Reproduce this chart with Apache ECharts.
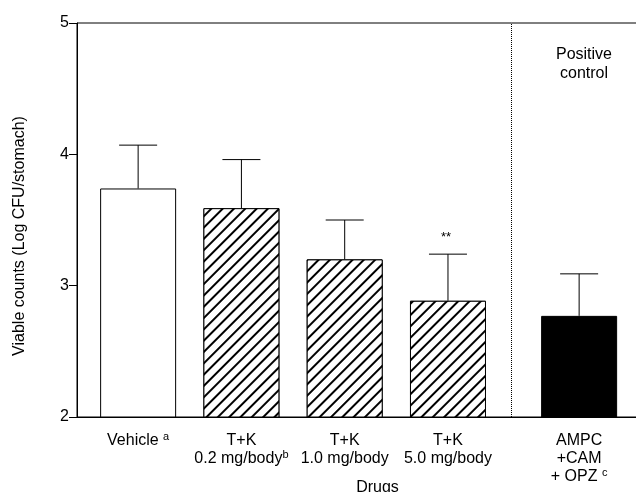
<!DOCTYPE html>
<html>
<head>
<meta charset="utf-8">
<script src="https://cdn.jsdelivr.net/npm/echarts@6/dist/echarts.min.js"></script>
<style>html,body{margin:0;padding:0;background:#fff}#c{width:636px;height:492px}</style>
</head>
<body>
<div id="c"></div>
<script>
// ---- data ----
var categories = ['Vehicle {sup|a}', 'T+K\n0.2 mg/body{sup|b}', 'T+K\n1.0 mg/body', 'T+K\n5.0 mg/body', 'AMPC\n+CAM\n+ OPZ {sup|c}'];
var xPositions = [1, 2, 3, 4, 5.27];
var means = [3.74, 3.59, 3.20, 2.885, 2.77];
var upperErr = [4.07, 3.96, 3.50, 3.24, 3.09];
var significance = ['', '', '', '**', ''];
var dividerPos = 4.61;
var yTicks = [2, 3, 4, 5];

var FONT = '"Liberation Sans", Arial, Helvetica, sans-serif';
var hatch = {symbol: 'rect', symbolSize: 1, dashArrayX: [1, 0], dashArrayY: [1.3, 5.8], rotation: -Math.PI / 4, color: '#000', backgroundColor: '#fff'};
var fills = ['plain', 'hatch', 'hatch', 'hatch', 'solid'];

var barData = means.map(function (m, i) {
  var st = {color: '#fff', borderColor: '#000', borderWidth: 1};
  if (fills[i] === 'hatch') st.decal = hatch;
  if (fills[i] === 'solid') st.color = '#000';
  return {value: [xPositions[i], m], itemStyle: st};
});
var errData = means.map(function (m, i) { return [xPositions[i], m, upperErr[i], i]; });

var chart = echarts.init(document.getElementById('c'));
chart.setOption({
  animation: false,
  backgroundColor: '#fff',
  textStyle: {fontFamily: FONT},
  title: {
    text: 'Positive\ncontrol', left: 579, top: 40, textAlign: 'center',
    textStyle: {fontFamily: FONT, fontSize: 16, fontWeight: 'normal', color: '#000', lineHeight: 19}
  },
  grid: {left: 77, top: 23, bottom: 75, right: -2, show: true, borderColor: '#000', borderWidth: 1, containLabel: false, outerBoundsMode: 'none'},
  xAxis: {
    type: 'value', min: 0.408, max: 5.84,
    axisLine: {show: true, lineStyle: {color: '#000', width: 1}},
    axisTick: {show: false},
    splitLine: {show: false},
    axisLabel: {
      customValues: xPositions,
      margin: 15,
      color: '#000', fontFamily: FONT, fontSize: 16, lineHeight: 18,
      formatter: function (v) {
        for (var i = 0; i < xPositions.length; i++) if (Math.abs(v - xPositions[i]) < 1e-6) return categories[i];
        return '';
      },
      rich: {sup: {fontSize: 11, fontFamily: FONT, color: '#000', padding: [0, 0, 9, 0], lineHeight: 18}}
    },
    name: 'Drugs', nameLocation: 'middle', nameGap: 63, nameMoveOverlap: false,
    nameTextStyle: {fontFamily: FONT, fontSize: 16, color: '#000', padding: [0, 0, 0, 40]}
  },
  yAxis: {
    type: 'value', min: 2, max: 5, interval: 1,
    axisLine: {show: true, lineStyle: {color: '#000', width: 1}},
    axisTick: {show: true, length: 8, lineStyle: {color: '#000'}},
    splitLine: {show: false},
    axisLabel: {color: '#000', fontFamily: FONT, fontSize: 16, margin: 8,
      formatter: function (v) { return yTicks.indexOf(v) >= 0 ? String(v) : ''; }},
    name: 'Viable counts (Log CFU/stomach)', nameLocation: 'middle', nameGap: 49, nameMoveOverlap: false,
    nameTextStyle: {fontFamily: FONT, fontSize: 16, color: '#000', padding: [0, 32, 0, 0]}
  },
  series: [
    {
      type: 'bar', data: barData, barWidth: 76, z: 2,
      markLine: {
        silent: true, symbol: ['none', 'none'], label: {show: false},
        lineStyle: {type: 'dotted', color: '#000', width: 1},
        data: [{xAxis: dividerPos}]
      }
    },
    {
      type: 'custom', z: 1,
      data: errData,
      renderItem: function (params, api) {
        var x = api.value(0), m = api.value(1), hi = api.value(2), idx = api.value(3);
        var p1 = api.coord([x, m]), p2 = api.coord([x, hi]);
        var half = 19;
        var children = [
          {type: 'line', shape: {x1: p1[0], y1: p1[1], x2: p2[0], y2: p2[1]}, style: {stroke: '#000', lineWidth: 1}},
          {type: 'line', shape: {x1: p2[0] - half, y1: p2[1], x2: p2[0] + half, y2: p2[1]}, style: {stroke: '#000', lineWidth: 1}}
        ];
        var s = significance[idx];
        if (s) children.push({type: 'text', style: {text: s, x: p2[0] - 2, y: p2[1] - 17, align: 'center', verticalAlign: 'middle', fontSize: 13, fontFamily: FONT, fill: '#000'}});
        return {type: 'group', children: children};
      }
    }
  ]
});
</script>
</body>
</html>
